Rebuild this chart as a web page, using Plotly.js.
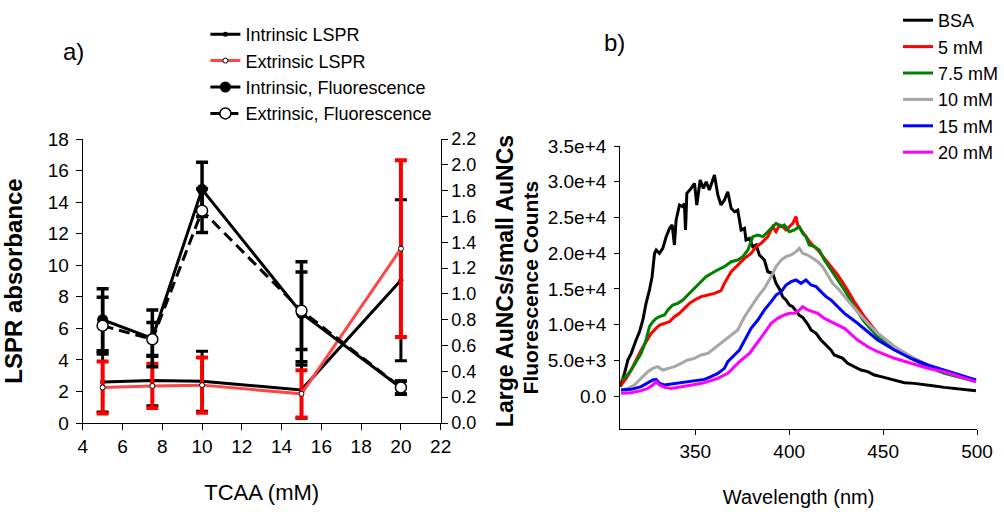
<!DOCTYPE html>
<html>
<head>
<meta charset="utf-8">
<script src="https://cdn.plot.ly/plotly-3.0.1.min.js"></script>
<style>html,body{margin:0;padding:0;background:#fff;}#chart{width:1004px;height:512px;}</style>
</head>
<body>
<div id="chart"></div>
<script>
// ---------- Panel a) data ----------
const tcaa = [5, 7.5, 10, 15, 20];
const intrinsicLSPR = [2.6, 2.7, 2.65, 2.1, 9.05];
const intrinsicLSPRErr = [1.9, 1.6, 1.9, 1.8, 5.1];
const extrinsicLSPR = [2.25, 2.35, 2.4, 1.85, 11.05];
const extrinsicLSPRErr = [1.65, 1.4, 1.75, 1.5, 5.6];
const intrinsicFluo = [0.80, 0.656, 1.81, 0.85, 0.273];
const intrinsicFluoErr = [0.24, 0.22, 0.21, 0.40, 0.05];
const extrinsicFluo = [0.754, 0.648, 1.645, 0.87, 0.275];
const extrinsicFluoErr = [0.22, 0.13, 0.17, 0.30, 0.05];

// ---------- Panel b) data ----------
const wlBSA = [310,312.3,314.1,315.9,318.5,320.3,322.1,323.8,325.6,327,328.3,329.2,330.9,332.7,334.5,336.3,337.7,338.9,339.8,341.6,343.4,344.2,344.8,345.5,347.8,349.6,350.8,352.6,354.3,355.8,357.5,359.3,360.2,362,363.7,365.5,367.3,369.1,370.9,372.6,374.4,376.2,377,378.8,380.6,382.4,384.1,386.8,388.6,391.2,393,394.8,396.5,398.3,400.1,401.9,403.7,405.4,407.2,410,411.6,414.3,416.9,419.6,422.2,424,425.8,428.5,431.1,434.7,438.2,441.8,445.3,448.9,452.4,456,461.3,466.6,472,477.3,482.6,487.9,493.3,499.4];
const cntBSA = [1300,3170,5040,5970,7840,9000,10640,12970,14840,16700,19970,20440,19970,20670,22300,23470,23940,21140,24640,26740,26500,26970,23240,28370,29070,29770,26740,30240,29070,30000,28840,30240,30940,28140,26740,27440,28600,26270,25800,26040,23240,23470,21840,22070,20900,21140,19740,19040,17400,17180,15770,15000,13900,13440,12740,12500,11800,11300,11000,10000,9240,8770,7840,7140,6440,5740,5510,5270,4570,4110,3640,3410,2940,2710,2470,2240,1870,1770,1540,1400,1210,1070,840,750];

const wl5 = [310.5,313.2,315.9,318.5,321.2,323.8,326.5,329.1,331,333.6,336.3,338.9,341.6,344.2,346.9,349.6,353.1,356.7,360.2,363.7,365.5,369.1,372.6,376.2,379.7,382.4,385,388.6,391.2,393,394.8,396.5,398.3,400.1,401.9,403.6,404.5,406.3,408.9,411.6,415.2,418.7,422.2,425.8,429.4,434.7,440,447.1,456,464.8,473.7,482.6,491.5,499.4];
const cnt5 = [1540,2470,3640,5040,6440,7610,8770,9470,9940,10170,10410,11110,11570,12270,12970,13440,13910,14140,14370,14750,15770,17400,18340,19270,19970,20910,21370,22310,23710,23010,23940,23710,23240,23710,24170,25110,23940,23240,22310,21370,20440,19270,18110,16940,15540,13200,11100,8770,6900,5500,4340,3400,2700,2240];

const wl75 = [310.5,313.2,315.9,318.5,321.2,323.8,325.6,327.4,329.1,331,333.6,335.4,338,340.7,343.4,346,347.8,355.7,361.8,365.5,369.1,372.6,375.3,378,380.6,383.3,386,388.6,391.2,393,395.7,397.4,400.1,402.8,405.4,407.2,408.9,410.7,413.4,416,418.7,422.2,425.8,429.4,434.7,440,447.1,456,464.8,473.7,482.6,491.5,499.4];
const cnt75 = [2240,2710,3640,4810,5970,7840,9710,10410,10870,11110,11340,12040,12740,12970,13440,14140,14610,16700,17640,18110,18800,19040,19500,20440,22310,22540,22310,23000,23710,24170,23710,23940,23000,23240,23710,22770,22310,21140,20910,20440,19040,17640,16240,14840,12500,10400,8300,6670,5270,4110,3170,2610,2010];

const wl10 = [310.5,314.1,317.6,321.2,324.7,327.4,330,332.7,335.4,338.9,342.5,346,349.6,353.1,356.7,360.2,363.7,367.3,372.6,376.2,379.7,383.3,386.8,390.4,393,395.7,398.3,401,403.6,405.4,407.2,409.8,412.5,415.2,417.8,420.5,423.1,426.7,430.2,436.4,441.8,447.1,456,464.8,473.7,482.6,491.5,499.4];
const cnt10 = [840,1070,1540,2470,3410,3870,4110,3640,3870,4110,4570,5040,5270,5740,5970,6670,7370,8070,9240,11100,12510,13910,15070,16710,18110,19040,19510,19740,20210,20670,19970,19740,19270,18810,18110,16940,15770,14840,13670,11800,10180,8780,6900,5500,4340,3400,2700,2240];

const wl15 = [310.5,315.9,321.2,324.7,327.4,329.1,331,333.6,337.2,340.7,344.2,347.8,351.3,354.9,358.4,362,365.5,367.3,373.5,379.7,383.3,386.8,390.4,393,395.7,398.3,401,403.6,406.3,408.9,411.6,414.3,416.9,419.6,422.2,425.8,429.4,436.4,441.8,447.1,456,464.8,473.7,482.6,491.5,499.4];
const cnt15 = [840,930,1310,1770,2240,2330,1770,1540,1680,1770,1870,2010,2150,2330,2710,3170,3870,4810,6440,9470,10640,12040,13210,14140,14610,15540,16010,16240,15770,16240,15540,15310,14610,13910,13440,12510,11570,10180,9000,7840,6440,5270,4340,3640,2940,2240];

const wl20 = [310.5,315.9,321.2,324.7,327.4,329.1,331,333.6,337.2,340.7,344.2,347.8,351.3,354.9,358.4,362,365.5,367.3,373.5,378.8,384.1,386.8,390.4,393.9,397.4,400.1,402.8,405.4,407.2,409.8,412.5,415.2,418.7,422.2,425.8,429.4,436.4,441.8,447.1,456,464.8,473.7,482.6,491.5,499.4];
const cnt20 = [370,470,750,1070,1540,2010,1540,1210,1070,1210,1310,1540,1680,1870,2150,2470,2940,3170,4810,5970,7840,8900,10170,10870,11340,11570,11570,12040,12510,12040,11810,11570,10870,10410,9940,9470,7840,6900,6200,5280,4580,3880,3400,2700,2010];

const fluoTickVals = [0, 5000, 10000, 15000, 20000, 25000, 30000, 35000];
const fluoTickText = ['0.0', '5.0e+3', '1.0e+4', '1.5e+4', '2.0e+4', '2.5e+4', '3.0e+4', '3.5e+4'];

const FONT = 'Liberation Sans, Arial, sans-serif';
const W = 1004, H = 512;
const px = v => v / W;
const py = v => 1 - v / H;

const errBar = (arr, color, thick) => ({type: 'data', array: arr, visible: true, color: color, thickness: thick, width: 6});

const traces = [
  {x: tcaa, y: intrinsicLSPR, name: 'Intrinsic LSPR', type: 'scatter', mode: 'lines+markers',
   xaxis: 'x', yaxis: 'y', legend: 'legend',
   line: {color: '#000', width: 3}, marker: {color: '#000', size: 5},
   error_y: errBar(intrinsicLSPRErr, '#000', 3)},
  {x: tcaa, y: extrinsicLSPR, name: 'Extrinsic LSPR', type: 'scatter', mode: 'lines+markers',
   xaxis: 'x', yaxis: 'y', legend: 'legend',
   line: {color: '#ff4646', width: 3}, marker: {color: '#fff', size: 5, line: {color: '#000', width: 1}},
   error_y: errBar(extrinsicLSPRErr, '#ff0000', 4)},
  {x: tcaa, y: intrinsicFluo, name: 'Intrinsic, Fluorescence', type: 'scatter', mode: 'lines+markers',
   xaxis: 'x', yaxis: 'y2', legend: 'legend',
   line: {color: '#000', width: 3}, marker: {color: '#000', size: 11},
   error_y: errBar(intrinsicFluoErr, '#000', 3.5)},
  {x: tcaa, y: extrinsicFluo, name: 'Extrinsic, Fluorescence', type: 'scatter', mode: 'lines+markers',
   xaxis: 'x', yaxis: 'y2', legend: 'legend',
   line: {color: '#000', width: 3, dash: '11px,6px'}, marker: {color: '#fff', size: 11, line: {color: '#000', width: 1.5}},
   error_y: errBar(extrinsicFluoErr, '#000', 3.5)},

  {x: wlBSA, y: cntBSA, name: 'BSA', type: 'scatter', mode: 'lines', xaxis: 'x2', yaxis: 'y3', legend: 'legend2',
   line: {color: '#000000', width: 3}},
  {x: wl5, y: cnt5, name: '5 mM', type: 'scatter', mode: 'lines', xaxis: 'x2', yaxis: 'y3', legend: 'legend2',
   line: {color: '#ff0000', width: 3}},
  {x: wl75, y: cnt75, name: '7.5 mM', type: 'scatter', mode: 'lines', xaxis: 'x2', yaxis: 'y3', legend: 'legend2',
   line: {color: '#008000', width: 3}},
  {x: wl10, y: cnt10, name: '10 mM', type: 'scatter', mode: 'lines', xaxis: 'x2', yaxis: 'y3', legend: 'legend2',
   line: {color: '#a6a6a6', width: 3}},
  {x: wl15, y: cnt15, name: '15 mM', type: 'scatter', mode: 'lines', xaxis: 'x2', yaxis: 'y3', legend: 'legend2',
   line: {color: '#0000ff', width: 3}},
  {x: wl20, y: cnt20, name: '20 mM', type: 'scatter', mode: 'lines', xaxis: 'x2', yaxis: 'y3', legend: 'legend2',
   line: {color: '#ff00ff', width: 3}}
];

const axisCommon = {
  showline: true, linecolor: '#000', linewidth: 1, mirror: false,
  ticks: 'outside', tickcolor: '#000', tickwidth: 1,
  showgrid: false, zeroline: false, color: '#000'
};

const layout = {
  width: W, height: H,
  margin: {l: 0, r: 0, t: 0, b: 0, pad: 0},
  paper_bgcolor: '#fff', plot_bgcolor: 'rgba(0,0,0,0)',
  font: {family: FONT, color: '#000'},
  showlegend: true,
  xaxis: Object.assign({}, axisCommon, {
    domain: [px(83), px(442)], anchor: 'y', range: [4, 22], tick0: 4, dtick: 2, ticklen: 6,
    tickfont: {size: 19}, title: {text: 'TCAA (mM)', font: {size: 22}, standoff: 28}
  }),
  yaxis: Object.assign({}, axisCommon, {
    domain: [py(423), py(139)], anchor: 'x', range: [0, 18], tick0: 0, dtick: 2, ticklen: 6,
    ticklabelstandoff: 3,
    tickfont: {size: 19}, title: {text: 'LSPR absorbance', font: {size: 24, weight: 'bold'}, standoff: 18}
  }),
  yaxis2: Object.assign({}, axisCommon, {
    overlaying: 'y', side: 'right', anchor: 'x', range: [0, 2.2], tick0: 0, dtick: 0.2, tickformat: '.1f', ticklen: 6,
    tickfont: {size: 18}, title: {text: 'Large AuNCs/small AuNCs', font: {size: 23, weight: 'bold'}, standoff: 21}
  }),
  xaxis2: Object.assign({}, axisCommon, {
    domain: [px(622), px(980)], anchor: 'y3', range: [310, 500], tickvals: [350, 400, 450, 500], ticklen: 5,
    tickfont: {size: 19}, title: {text: 'Wavelength (nm)', font: {size: 20}, standoff: 28}
  }),
  yaxis3: Object.assign({}, axisCommon, {
    domain: [py(429.3), py(146)], anchor: 'x2', range: [-4660, 35000], tickvals: fluoTickVals, ticktext: fluoTickText, ticklen: 5,
    ticklabelstandoff: 4,
    tickfont: {size: 19}, title: {text: 'Fluorescence Counts', font: {size: 21, weight: 'bold'}, standoff: 3}
  }),
  legend: {
    x: px(206), y: py(16), xanchor: 'left', yanchor: 'top', bgcolor: 'rgba(0,0,0,0)', borderwidth: 0,
    font: {size: 18, family: FONT, color: '#000'}, traceorder: 'normal'
  },
  legend2: {
    x: px(901), y: py(2), xanchor: 'left', yanchor: 'top', bgcolor: 'rgba(0,0,0,0)', borderwidth: 0,
    font: {size: 18, family: FONT, color: '#000'}, traceorder: 'normal'
  },
  annotations: [
    {text: 'a)', xref: 'paper', yref: 'paper', x: px(74), y: py(51), xanchor: 'center', yanchor: 'middle', showarrow: false, font: {size: 24}},
    {text: 'b)', xref: 'paper', yref: 'paper', x: px(616), y: py(42), xanchor: 'center', yanchor: 'middle', showarrow: false, font: {size: 24}}
  ]
};

Plotly.newPlot('chart', traces, layout, {displayModeBar: false, staticPlot: true});
</script>
</body>
</html>
